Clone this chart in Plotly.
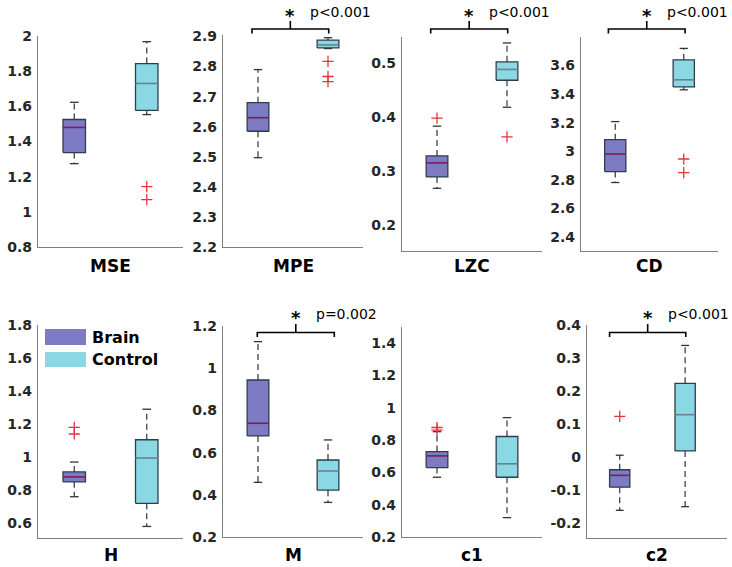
import plotly.graph_objects as go

W, H = 732, 567

# ---------------- data ----------------
metrics = ["MSE", "MPE", "LZC", "CD", "H", "M", "c1", "c2"]

brain_low  = [1.274, 2.497, 0.268, 2.780, 0.760, 0.459, 0.570, -0.162]
brain_q1   = [1.337, 2.585, 0.289, 2.857, 0.850, 0.679, 0.630, -0.092]
brain_med  = [1.480, 2.630, 0.315, 2.980, 0.880, 0.739, 0.702, -0.056]
brain_q3   = [1.525, 2.680, 0.328, 3.080, 0.910, 0.944, 0.729, -0.039]
brain_high = [1.623, 2.790, 0.383, 3.207, 0.970, 1.126, 0.852, 0.005]
brain_outliers = [[], [], [0.398], [], [1.18, 1.14], [], [0.878, 0.862], [0.123]]

ctrl_low  = [1.553, 2.860, 0.418, 3.430, 0.580, 0.364, 0.320, -0.151]
ctrl_q1   = [1.577, 2.862, 0.468, 3.450, 0.720, 0.422, 0.570, 0.018]
ctrl_med  = [1.730, 2.872, 0.488, 3.500, 0.994, 0.513, 0.653, 0.128]
ctrl_q3   = [1.843, 2.888, 0.502, 3.640, 1.105, 0.565, 0.822, 0.223]
ctrl_high = [1.968, 2.896, 0.537, 3.720, 1.290, 0.660, 0.939, 0.338]
ctrl_outliers = [[1.143, 1.069], [2.817, 2.767, 2.750], [0.363], [2.945, 2.850], [], [], [], []]

p_labels = ["", "p<0.001", "p<0.001", "p<0.001", "", "p=0.002", "", "p<0.001"]

y_ticks = [
    [0.8, 1, 1.2, 1.4, 1.6, 1.8, 2],
    [2.2, 2.3, 2.4, 2.5, 2.6, 2.7, 2.8, 2.9],
    [0.2, 0.3, 0.4, 0.5],
    [2.4, 2.6, 2.8, 3, 3.2, 3.4, 3.6],
    [0.6, 0.8, 1, 1.2, 1.4, 1.6, 1.8],
    [0.2, 0.4, 0.6, 0.8, 1, 1.2],
    [0.2, 0.4, 0.6, 0.8, 1, 1.2, 1.4],
    [-0.2, -0.1, 0, 0.1, 0.2, 0.3, 0.4],
]

# ---------------- styling / layout ----------------
y_ranges = [[0.8, 2.0], [2.2, 2.905], [0.152, 0.548], [2.30, 3.80],
            [0.51, 1.80], [0.2, 1.2], [0.2, 1.5], [-0.246, 0.40]]
x_ranges = [[0.5, 2.5]] * 7 + [[0.5, 2.64]]
# pixel boxes of each axes (page pixels): x0, x1, ytop, ybottom
px_boxes = [(38, 183, 36, 247), (223, 363, 35, 247), (402, 542, 37, 251), (581, 718, 37, 251),
            (38, 183, 325, 538), (223, 363, 326, 537), (402, 542, 327, 537), (587, 727, 325, 538)]
# bracket extents in x data units
bracket_x = [None, (0.914, 2.01), (0.91, 2.01), (0.90, 2.02), None, (0.99, 2.09), None, (0.845, 2.01)]

BRAIN_FILL = "#7c7bc4"
CTRL_FILL = "#8ad8e4"
EDGE = "#2e3d4c"
BRAIN_MED = "#7a1f5a"
CTRL_MED = "#6c8088"
WHISK = "#333333"
OUT_RED = "#e8333a"
BOX_HW = 0.155
CAP_HW = 0.06


def px2x(px):
    return px / W


def px2y(py):
    return 1 - py / H


def fmt(v):
    return f"{v:g}"


fig = go.Figure()
layout = dict(width=W, height=H, margin=dict(l=0, r=0, t=0, b=0, autoexpand=False),
              paper_bgcolor="white", plot_bgcolor="white", showlegend=False, template="none")

tickfont = dict(family="DejaVu Sans", size=14, color="#262626")
shapes, annotations = [], []

for i, name in enumerate(metrics):
    ax = "" if i == 0 else str(i + 1)
    xa, ya = "x" + ax, "y" + ax
    x0, x1, yt, yb = px_boxes[i]
    xr = x_ranges[i]
    layout["xaxis" + ax] = dict(domain=[px2x(x0), px2x(x1)], range=xr, automargin=False,
                                showticklabels=False, ticks="", showgrid=False, zeroline=False,
                                showline=True, linecolor="#7f7f7f", linewidth=1.4,
                                anchor=ya, fixedrange=True)
    layout["yaxis" + ax] = dict(domain=[px2y(yb), px2y(yt)], range=y_ranges[i], automargin=False,
                                tickvals=y_ticks[i], ticktext=[f"<b>{fmt(v)}</b>" for v in y_ticks[i]],
                                ticks="", ticklen=0, showgrid=False, zeroline=False,
                                showline=True, linecolor="#7f7f7f", linewidth=1.4,
                                tickfont=tickfont, anchor=xa, fixedrange=True, ticklabelstandoff=2)

    groups = [
        (1, brain_low[i], brain_q1[i], brain_med[i], brain_q3[i], brain_high[i], brain_outliers[i], BRAIN_FILL, BRAIN_MED),
        (2, ctrl_low[i], ctrl_q1[i], ctrl_med[i], ctrl_q3[i], ctrl_high[i], ctrl_outliers[i], CTRL_FILL, CTRL_MED),
    ]
    for pos, lo, q1, med, q3, hi, outs, fill, medc in groups:
        # whiskers (dashed)
        fig.add_trace(go.Scatter(x=[pos, pos, None, pos, pos], y=[q3, hi, None, q1, lo],
                                 mode="lines", line=dict(color=WHISK, width=1.2, dash="6px,4px"),
                                 xaxis=xa, yaxis=ya, hoverinfo="skip"))
        # caps
        fig.add_trace(go.Scatter(x=[pos - CAP_HW, pos + CAP_HW, None, pos - CAP_HW, pos + CAP_HW],
                                 y=[hi, hi, None, lo, lo], mode="lines",
                                 line=dict(color=WHISK, width=1.3), xaxis=xa, yaxis=ya, hoverinfo="skip"))
        # box
        fig.add_trace(go.Scatter(x=[pos - BOX_HW, pos + BOX_HW, pos + BOX_HW, pos - BOX_HW, pos - BOX_HW],
                                 y=[q1, q1, q3, q3, q1], mode="lines", fill="toself", fillcolor=fill,
                                 line=dict(color=EDGE, width=1.3), xaxis=xa, yaxis=ya, hoverinfo="skip"))
        # median
        fig.add_trace(go.Scatter(x=[pos - BOX_HW, pos + BOX_HW], y=[med, med], mode="lines",
                                 line=dict(color=medc, width=1.6), xaxis=xa, yaxis=ya, hoverinfo="skip"))
        if outs:
            fig.add_trace(go.Scatter(x=[pos] * len(outs), y=outs, mode="markers",
                                     marker=dict(symbol="cross-thin", size=8, line=dict(color=OUT_RED, width=1.3)),
                                     xaxis=xa, yaxis=ya, hoverinfo="skip", cliponaxis=False))

    # axis title
    ty = 266 if i < 4 else 555
    annotations.append(dict(text=f"<b>{name}</b>", x=px2x((x0 + x1) / 2), y=px2y(ty), xref="paper", yref="paper",
                            showarrow=False, xanchor="center", yanchor="middle",
                            font=dict(family="DejaVu Sans", size=17, color="black")))

    # significance bracket
    if p_labels[i]:
        def dx(v):
            return px2x(x0 + (v - xr[0]) / (xr[1] - xr[0]) * (x1 - x0))
        bl, br = dx(bracket_x[i][0]), dx(bracket_x[i][1])
        bc = (bl + br) / 2
        if i < 4:
            hy, ey, ty2, sy = 29, 33.5, 21, 12
        else:
            hy, ey, ty2, sy = 332.5, 337, 324, 314
        bline = dict(color="black", width=1.6)
        shapes.append(dict(type="path", xref="paper", yref="paper",
                           path=f"M {bl},{px2y(ey)} L {bl},{px2y(hy)} L {br},{px2y(hy)} L {br},{px2y(ey)}",
                           line=bline))
        shapes.append(dict(type="line", xref="paper", yref="paper", x0=bc, x1=bc,
                           y0=px2y(hy), y1=px2y(ty2), line=bline))
        annotations.append(dict(text="<b>*</b>", x=bc, y=px2y(sy + 3), xref="paper", yref="paper",
                                showarrow=False, xanchor="center", yanchor="middle",
                                font=dict(family="DejaVu Sans", size=18, color="black")))
        annotations.append(dict(text=p_labels[i], x=bc + 18 / W, y=px2y(sy), xref="paper", yref="paper",
                                showarrow=False, xanchor="left", yanchor="middle",
                                font=dict(family="DejaVu Sans", size=14, color="black")))

# legend (drawn in the H panel)
for label, fill, (ry0, ry1) in [("Brain", BRAIN_FILL, (329, 345)), ("Control", CTRL_FILL, (352, 367))]:
    shapes.append(dict(type="rect", xref="paper", yref="paper", x0=px2x(45), x1=px2x(86),
                       y0=px2y(ry1), y1=px2y(ry0), fillcolor=fill, line=dict(width=0)))
    annotations.append(dict(text=f"<b>{label}</b>", x=px2x(90), y=px2y((ry0 + ry1) / 2), xref="paper", yref="paper",
                            showarrow=False, xanchor="left", yanchor="middle",
                            font=dict(family="DejaVu Sans", size=16, color="black")))

layout["shapes"] = shapes
layout["annotations"] = annotations
fig.update_layout(**layout)
fig.write_html("out.html", config={"displayModeBar": False},
               post_script="document.body.style.margin='0';document.body.style.overflow='hidden';")
